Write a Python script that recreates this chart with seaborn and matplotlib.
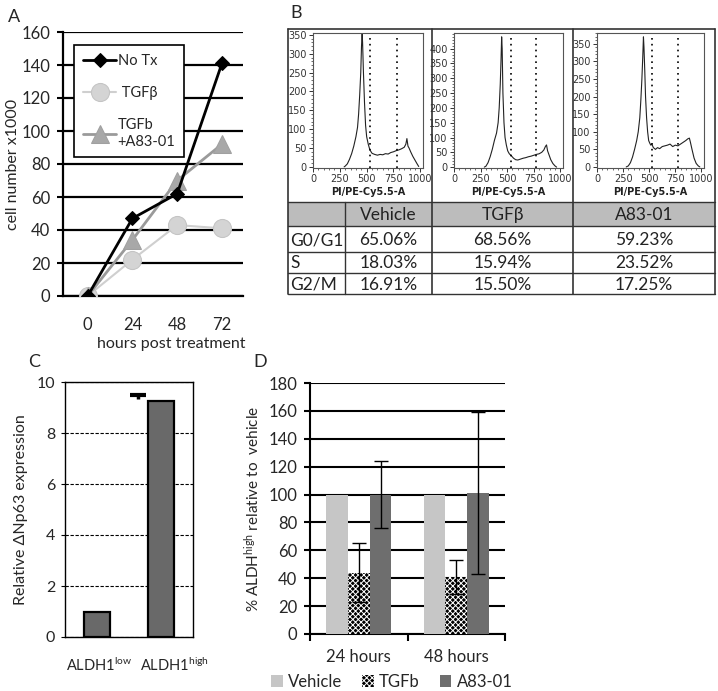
import numpy as np
import pandas as pd
import seaborn as sns
import matplotlib.pyplot as plt
from matplotlib.patches import Rectangle
from matplotlib.ticker import MultipleLocator
from matplotlib.transforms import ScaledTranslation

W, H = 718, 691

# ---- panel A: cell counts
hours = ["0", "24", "48", "72"]
no_tx = [0, 47, 62, 141]
tgfb = [0, 22, 43, 41]
tgfb_a83 = [0, 34, 70, 92]

# ---- panel B: cell cycle histograms
hist1_x = [290, 300, 320, 340, 360, 380, 400, 415, 425, 435, 445, 452, 458, 462, 470, 480, 490, 500,
           515, 530, 550, 575, 600, 625, 650, 675, 700, 725, 750, 775, 800, 825, 850, 865, 875, 885,
           895, 910, 930, 950, 970, 985]
hist1_y = [0, 2, 8, 20, 35, 55, 80, 105, 140, 190, 250, 320, 355, 330, 250, 170, 110, 80,
           60, 45, 36, 33, 31, 33, 32, 35, 34, 38, 40, 43, 45, 48, 52, 60, 75, 55,
           50, 40, 28, 18, 8, 1]
hist2_x = [285, 300, 320, 340, 360, 380, 400, 415, 425, 435, 442, 448, 453, 460, 470, 480, 492, 505,
           520, 540, 560, 580, 600, 625, 650, 675, 700, 725, 750, 775, 800, 825, 845, 860, 870, 880,
           895, 910, 930, 950, 965]
hist2_y = [0, 3, 15, 35, 60, 90, 115, 150, 200, 280, 360, 440, 400, 250, 150, 100, 75, 55,
           45, 38, 30, 25, 24, 27, 30, 32, 35, 37, 40, 43, 45, 50, 58, 70, 75, 55,
           40, 25, 12, 4, 0]
hist3_x = [280, 300, 320, 340, 360, 380, 395, 410, 420, 430, 438, 445, 450, 458, 465, 475, 485, 495,
           505, 515, 525, 540, 560, 580, 600, 625, 650, 675, 700, 725, 750, 775, 800, 825, 850, 870,
           885, 895, 910, 930, 950, 970, 985]
hist3_y = [0, 3, 12, 28, 50, 75, 100, 140, 190, 250, 310, 370, 340, 270, 200, 140, 100, 75,
           68, 62, 65, 55, 50, 55, 52, 58, 60, 62, 65, 58, 62, 60, 65, 70, 75, 80,
           82, 70, 50, 25, 10, 3, 0]
gates = [[530, 780], [532, 773], [525, 777]]
hist_ymax = [355, 453, 381]
hist_ytop = [350, 400, 350]

conditions = ["Vehicle", "TGFβ", "A83-01"]
phases = ["G0/G1", "S", "G2/M"]
phase_pct = [["65.06%", "68.56%", "59.23%"],
             ["18.03%", "15.94%", "23.52%"],
             ["16.91%", "15.50%", "17.25%"]]

# ---- panel C
aldh_groups = ["ALDH1$^{\\mathrm{low}}$", "ALDH1$^{\\mathrm{high}}$"]
np63 = [1.0, 9.25]

# ---- panel D
timepoints = ["24 hours", "48 hours"]
treatments = ["Vehicle", "TGFb", "A83-01"]
aldh_pct = {"Vehicle": [100, 100], "TGFb": [44, 41], "A83-01": [100, 101]}
aldh_err = {"Vehicle": [0, 0], "TGFb": [21, 12], "A83-01": [24, 58]}

sns.set_style("white")
plt.rcParams['font.family'] = ['Lato', 'DejaVu Sans']
plt.rcParams['mathtext.fontset'] = 'custom'
plt.rcParams['mathtext.rm'] = 'Lato'
plt.rcParams['mathtext.it'] = 'Lato:italic'
plt.rcParams['hatch.linewidth'] = 0.7


def box(l, t, r, b):
    return [l / W, 1 - b / H, (r - l) / W, (b - t) / H]


fig = plt.figure(figsize=(W / 100, H / 100), dpi=100)

# ================= A
axA = fig.add_axes(box(63, 32, 243, 296))
pos = np.arange(len(hours))
sns.lineplot(x=pos, y=tgfb, ax=axA, color="#cfcfcf", lw=1.5, marker="o", markersize=13,
             markeredgecolor="#c4c4c4", markerfacecolor="#d4d4d4", label=" TGFβ", zorder=3)
sns.lineplot(x=pos, y=tgfb_a83, ax=axA, color="#9a9a9a", lw=2, marker="^", markersize=13,
             markeredgecolor="#a0a0a0", markerfacecolor="#a8a8a8", label="TGFb\n+A83-01", zorder=4)
sns.lineplot(x=pos, y=no_tx, ax=axA, color="black", lw=2, marker="D", markersize=7,
             markeredgecolor="black", label="No Tx", zorder=5)
axA.set_xlim(-0.55, 3.47)
axA.set_ylim(0, 160)
axA.yaxis.set_major_locator(MultipleLocator(20))
axA.yaxis.grid(True, color="black", lw=1.6)
axA.set_axisbelow(True)
axA.set_xticks(pos)
axA.set_xticklabels(hours)
axA.tick_params(axis="x", length=0, pad=15, labelsize=12)
axA.tick_params(axis="y", length=4, width=1.5, color="black", direction="out", left=True, labelsize=12, pad=5)
for s in ["top", "right"]:
    axA.spines[s].set_visible(False)
for s in ["left", "bottom"]:
    axA.spines[s].set_color("black")
    axA.spines[s].set_linewidth(1.6)
axA.set_xlabel("hours post treatment", fontsize=11.5, labelpad=3, x=0.6)
axA.set_ylabel("cell number x1000", fontsize=11.5, labelpad=1)
h, l = axA.get_legend_handles_labels()
order = [2, 0, 1]
legA = axA.legend([h[i] for i in order], [l[i] for i in order], loc="upper left",
                  bbox_to_anchor=(0.061, 0.95), borderaxespad=0, frameon=True, fancybox=False,
                  fontsize=10.5, labelspacing=1.25, handlelength=2.3, handletextpad=0.1,
                  borderpad=0.6, framealpha=1)
legA.get_frame().set_edgecolor("black")
legA.get_frame().set_linewidth(1.2)
fig.text(8 / W, 1 - 17 / H, "A", fontsize=13, va="center")

# ================= B
axT = fig.add_axes(box(286, 27, 717, 300))
axT.set_xlim(286, 717)
axT.set_ylim(300, 27)
axT.axis("off")
col_edges = [288, 345, 432, 573, 715]
row_edges = [202, 226, 252, 273, 294]
axT.add_patch(Rectangle((col_edges[0], row_edges[0]), col_edges[-1] - col_edges[0],
                        row_edges[1] - row_edges[0], facecolor="#bcbcbc", edgecolor="none"))
lc = "#333333"
axT.plot([288, 715], [29, 29], color=lc, lw=1.2)
for y in row_edges:
    axT.plot([288, 715], [y, y], color=lc, lw=1.0)
for x in [288, 432, 573, 715]:
    axT.plot([x, x], [29, row_edges[-1]], color=lc, lw=1.2)
axT.plot([345, 345], [row_edges[0], row_edges[-1]], color=lc, lw=1.0)
col_centers = [(col_edges[i + 1] + col_edges[i + 2]) / 2 for i in range(3)]
for j, c in enumerate(conditions):
    axT.text(col_centers[j], (row_edges[0] + row_edges[1]) / 2 + 1, c, ha="center", va="center",
             fontsize=12.5, color="#222222")
for i, ph in enumerate(phases):
    yc = (row_edges[i + 1] + row_edges[i + 2]) / 2 + 1
    axT.text(290, yc, ph, ha="left", va="center", fontsize=12.5, color="#222222")
    for j in range(3):
        axT.text(col_centers[j], yc, phase_pct[i][j], ha="center", va="center", fontsize=12.5,
                 color="#222222")
fig.text(290 / W, 1 - 13 / H, "B", fontsize=13, va="center")

hist_boxes = [(313, 33, 423, 168), (454, 33, 563, 168), (597, 33, 704, 168)]
hist_data = [(hist1_x, hist1_y), (hist2_x, hist2_y), (hist3_x, hist3_y)]
narrow = ['Liberation Sans Narrow', 'DejaVu Sans']
for k in range(3):
    axh = fig.add_axes(box(*hist_boxes[k]))
    hx, hy = hist_data[k]
    sns.lineplot(x=hx, y=hy, ax=axh, color="#222222", lw=0.8, sort=False)
    for g in gates[k]:
        axh.axvline(g, color="black", ls=(0, (1, 2.5)), lw=1.2)
    axh.set_xlim(0, 1025)
    axh.set_ylim(-3, hist_ymax[k])
    axh.set_xticks([0, 250, 500, 750, 1000])
    axh.xaxis.set_minor_locator(MultipleLocator(50))
    axh.set_yticks(np.arange(0, hist_ytop[k] + 1, 50))
    axh.yaxis.set_minor_locator(MultipleLocator(10))
    axh.tick_params(which="major", length=3, width=0.7, color="#333333", pad=1.5, labelsize=7,
                    bottom=True, left=True)
    axh.tick_params(which="minor", length=1.5, width=0.5, color="#333333", bottom=True, left=True)
    for lab in axh.get_xticklabels() + axh.get_yticklabels():
        lab.set_family(narrow)
        lab.set_color("#333333")
    for s in axh.spines.values():
        s.set_color("#555555")
        s.set_linewidth(0.8)
    axh.set_xlabel("PI/PE-Cy5.5-A", fontsize=7, fontweight="bold", family=narrow,
                   labelpad=2, color="#222222")

# ================= C
axC = fig.add_axes(box(65, 382, 193, 637))
cpos = np.arange(len(aldh_groups))
sns.barplot(x=aldh_groups, y=np63, ax=axC, color="#696969", edgecolor="black", linewidth=1.6,
            width=0.42, saturation=1, zorder=3)
eb = axC.errorbar(cpos[1] - 0.36, np63[1] + 0.08, yerr=[[0], [0.15]], fmt="none",
                  ecolor="black", elinewidth=2.5, capsize=6, capthick=3, zorder=4)
eb.lines[1][0].set_visible(False)  # keep only the upper cap
axC.set_xlim(-0.5, 1.5)
axC.set_ylim(0, 10)
axC.yaxis.set_major_locator(MultipleLocator(2))
axC.yaxis.grid(True, color="black", ls=(0, (3, 1.5)), lw=0.8)
axC.set_axisbelow(True)
axC.tick_params(axis="x", length=0, pad=14, labelsize=10.5)
axC.tick_params(axis="y", length=3, color="black", left=True, labelsize=11.5, pad=4)
# the two category labels sit a little further apart in the original
xl = axC.get_xticklabels()
xl[0].set_transform(xl[0].get_transform() + ScaledTranslation(2 / 100, 0, fig.dpi_scale_trans))
xl[1].set_transform(xl[1].get_transform() + ScaledTranslation(13 / 100, 0, fig.dpi_scale_trans))
for s in axC.spines.values():
    s.set_color("black")
    s.set_linewidth(1.0)
axC.set_ylabel("Relative ΔNp63 expression", fontsize=11.5, labelpad=6)
fig.text(28 / W, 1 - 362 / H, "C", fontsize=13, va="center")

# ================= D
axD = fig.add_axes(box(310, 383, 505, 634))
rows = []
for t in treatments:
    for i, tp in enumerate(timepoints):
        rows.append({"time": tp, "treatment": t, "pct": aldh_pct[t][i]})
dfD = pd.DataFrame(rows)
sns.barplot(data=dfD, x="time", y="pct", hue="treatment", hue_order=treatments, ax=axD,
            palette=["#c6c6c6", "#111111", "#6e6e6e"], width=0.67, saturation=1,
            linewidth=0, edgecolor="none", zorder=3, legend=False)
for p in axD.containers[1]:
    p.set_facecolor("black")
    p.set_edgecolor("white")
    p.set_hatch("xxxxxx")
    p.set_linewidth(0)
handles = [c[0] for c in axD.containers]
for t, cont in zip(treatments, axD.containers):
    xs = [p.get_x() + p.get_width() / 2 for p in cont]
    if max(aldh_err[t]) > 0:
        axD.errorbar(xs, aldh_pct[t], yerr=aldh_err[t], fmt="none", ecolor="black",
                     elinewidth=1.0, capsize=5, capthick=1.0, zorder=4)
axD.set_xlim(-0.5, 1.5)
axD.set_ylim(0, 180)
axD.yaxis.set_major_locator(MultipleLocator(20))
axD.yaxis.grid(True, color="black", lw=1.5)
axD.set_axisbelow(True)
axD.set_xticks([-0.5, 0.5, 1.5], minor=True)
axD.tick_params(axis="x", which="major", length=0, pad=11, labelsize=12)
axD.tick_params(axis="x", which="minor", length=5, width=1.5, color="black", bottom=True)
axD.tick_params(axis="y", length=4, width=1.5, color="black", left=True, labelsize=12, pad=5)
for s in ["top", "right"]:
    axD.spines[s].set_visible(False)
for s in ["left", "bottom"]:
    axD.spines[s].set_color("black")
    axD.spines[s].set_linewidth(1.5)
axD.set_xlabel("")
axD.set_ylabel("% ALDH$^{\\mathrm{high}}$ relative to  vehicle", fontsize=11, labelpad=5)
axD.legend(handles, treatments, loc="center", bbox_to_anchor=(0.42, -0.19), ncol=3, frameon=False,
           fontsize=12, handlelength=0.7, handleheight=0.7, handletextpad=0.3, columnspacing=1.2)
fig.text(253 / W, 1 - 362 / H, "D", fontsize=13, va="center")

fig.savefig("out.png", dpi=100)
